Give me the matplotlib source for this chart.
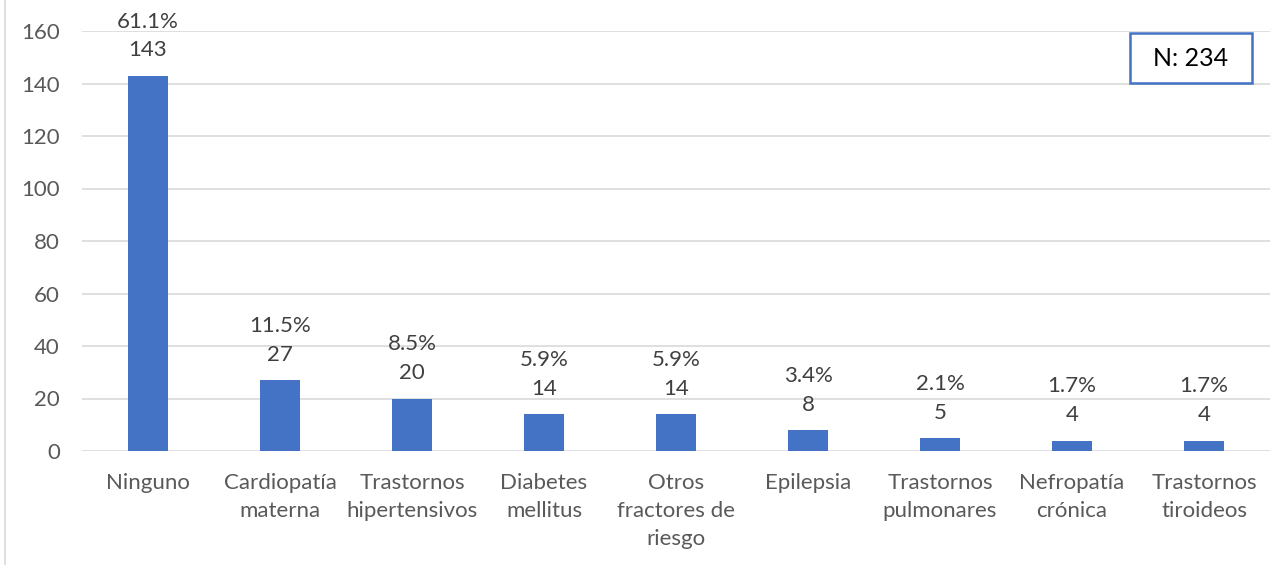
import matplotlib
matplotlib.use("Agg")
import matplotlib.pyplot as plt
from matplotlib.lines import Line2D
from matplotlib.patches import Rectangle
import numpy as np

categories = ["Ninguno", "Cardiopatía\nmaterna", "Trastornos\nhipertensivos",
              "Diabetes\nmellitus", "Otros\nfractores de\nriesgo", "Epilepsia",
              "Trastornos\npulmonares", "Nefropatía\ncrónica", "Trastornos\ntiroideos"]
counts = [143, 27, 20, 14, 14, 8, 5, 4, 4]
percents = ["61.1%", "11.5%", "8.5%", "5.9%", "5.9%", "3.4%", "2.1%", "1.7%", "1.7%"]
total_label = "N: 234"

plt.rcParams['font.family'] = ['Lato', 'DejaVu Sans']

W, H = 1286, 565
fig = plt.figure(figsize=(W / 100, H / 100), dpi=100)
ax = fig.add_axes([82 / W, 1 - 451 / H, 1188 / W, 420 / H])

pos = np.arange(len(categories))
ax.bar(pos, counts, width=0.31, color='#4472C4', zorder=3)

for x, c, p in zip(pos, counts, percents):
    ax.annotate(p + "\n" + str(c), (x, c), xytext=(0, 11), textcoords='offset points',
                ha='center', va='bottom', fontsize=16, color='#404040',
                linespacing=1.55)

ax.set_xlim(-0.5, len(categories) - 0.5)
ax.set_ylim(0, 160)
ax.set_yticks(np.arange(0, 161, 20))
ax.yaxis.grid(True, color='#D9D9D9', linewidth=1.2, zorder=0)
ax.set_xticks(pos)
ax.set_xticklabels(categories, linespacing=1.5)
ax.tick_params(axis='both', length=0, labelsize=16, labelcolor='#595959')
ax.tick_params(axis='x', pad=16)
ax.tick_params(axis='y', pad=16)
for s in ax.spines.values():
    s.set_visible(False)

# N box
fig.add_artist(Rectangle((1130 / W, 1 - 83 / H), 122 / W, 50 / H,
                         transform=fig.transFigure, fc='white', ec='#4472C4', lw=1.8))
fig.text(1191 / W, 1 - 59 / H, total_label, ha='center', va='center',
         fontsize=18, color='#000000')

fig.add_artist(Line2D([5 / W, 5 / W], [0, 1], color='#D9D9D9', lw=1.2))

fig.savefig("out.png", dpi=100)
